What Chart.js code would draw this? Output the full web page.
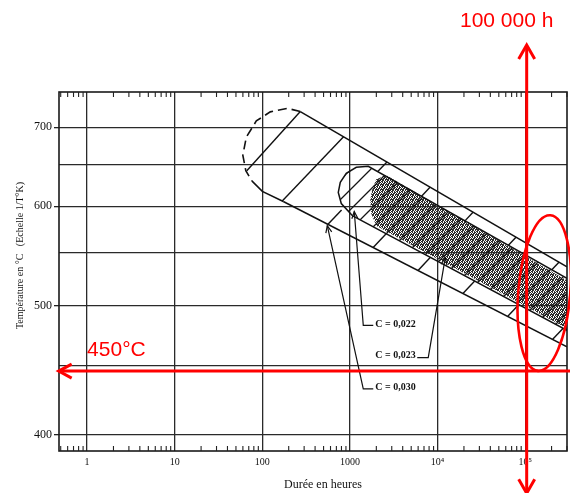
<!DOCTYPE html>
<html><head><meta charset="utf-8">
<script src="https://cdn.jsdelivr.net/npm/chart.js@4.4.1/dist/chart.umd.min.js"></script>
<style>html,body{margin:0;padding:0;background:#fff;}#wrap{width:570px;height:493px;position:relative;}</style>
</head><body><div id="wrap"><canvas id="c"></canvas></div>
<script>
// ---------- axes ----------
const X_MIN_H = 0.478, X_MAX_H = 3.0e5;          // hours
const Y_TOP_C = 752.4, Y_BOTTOM_C = 389.3;        // °C (scale in 1/T)
const X_TICKS = [1, 10, 100, 1000, 1e4, 1e5];
const X_TICK_LABELS = ['1', '10', '100', '1000', '10⁴', '10⁵'];
const Y_GRID_C = [400, 450, 500, 550, 600, 650, 700];
const Y_LABELLED_C = [400, 500, 600, 700];
const X_TITLE = 'Durée en heures';
const Y_TITLE = 'Température en °C   (Echelle 1/T°K)';

// ---------- drawn shapes, points as [hours, °C] ----------
const OUTER_CAP_DASHED = [[271.3,722.7],[192.8,727.5],[123.3,722.2],[85.4,709.0],[65.7,686.4],[59.9,662.2],[64.8,642.3],[75.9,629.9]];
const OUTER_CAP_SOLID = [[75.9,629.9],[100,617.3],[173.5,605.5]];
const OUTER_UPPER = [[271.3,722.7],[3.0e5,536.4]];
const OUTER_LOWER = [[173.5,605.5],[3.0e5,465.2]];
const OUTER_DIVIDERS = [
  [[271.3,722.7],[66.5,642.3]],
  [[845.6,686.8],[167.7,605.9]],
  [[2645,653.5],[2077,641.3]], [[802.4,595.9],[561.4,580.0]],
  [[8248,622.4],[6561,611.6]], [[2589,570.0],[1840,555.6]],
  [[25520,593.5],[20520,583.8]], [[8290,545.8],[5985,532.8]],
  [[78960,566.5],[64330,557.9]], [[26540,522.8],[19470,511.2]],
  [[244300,541.1],[201200,533.4]], [[84750,501.1],[63330,490.8]],
  [[271400,480.5],[205900,471.3]]
];
const INNER_BAND = [[1063,589.6],[796.2,603.2],[735.9,616.1],[775.5,628.1],[907.8,639.2],[1181,646.7],[1618,648.0],[3.0e5,525.2],[3.0e5,478.7],[1063,589.6]];
const SHADED = [[1797,619.6],[1996,631.8],[2596,636.7],[3.0e5,523.3],[3.0e5,480.4],[2529,573.2],[1996,578.6],[1751,591.8],[1705,607.8],[1797,619.6]];
// leaders: first point is the arrow tip
const LEADER_022 = [[1120,594.1],[1419,483.0],[1845,483.0]];
const LEADER_023 = [[12230,545.2],[7826,456.5],[5861,456.5]];
const LEADER_030 = [[551.1,578.6],[1419,432.6],[1845,432.6]];
const C_LABELS = ['C = 0,022', 'C = 0,023', 'C = 0,030'];
const C_LABEL_AT = [[1945,483.9],[1945,458.1],[1945,433.3]];

// ---------- red annotations ----------
const MARK_HOURS = 1.04e5, MARK_V_FROM_C = 831.5, MARK_V_TO_C = 362.8;
const MARK_TEMP_C = 446, MARK_H_FROM_H = 0.474, MARK_H_TO_H = 3.7e5;
const ELLIPSE_CENTER = [164800, 511.5];
const ELLIPSE_LEFT_H = 83220, ELLIPSE_TOP_C = 589.6, ELLIPSE_BOTTOM_C = 445.5;
const RED_TEXT_HOURS = '100 000 h', RED_TEXT_TEMP = '450°C';

// ---------- helpers ----------
const tv = c => 1000 / (c + 273.15);
const pts = arr => arr.map(([h, c]) => ({x: h, y: tv(c)}));
const cv = document.getElementById('c');
const cctx = cv.getContext('2d');

function hatchPattern() {
  const t = document.createElement('canvas'); t.width = t.height = 20;
  const g = t.getContext('2d');
  g.strokeStyle = '#151515'; g.lineWidth = 1.3; g.beginPath();
  g.moveTo(-2, 22); g.lineTo(22, -2);
  g.moveTo(-12, 12); g.lineTo(12, -12);
  g.moveTo(8, 32); g.lineTo(32, 8);
  g.stroke();
  return cctx.createPattern(t, 'repeat');
}
function stipplePattern() {
  const t = document.createElement('canvas'); t.width = t.height = 5;
  const g = t.getContext('2d');
  g.fillStyle = '#2c2c2c';
  [[0,0],[2,0],[3,0],[1,1],[4,1],[2,1],[0,2],[2,2],[4,2],[3,3],[1,3],[4,3],[0,4],[2,4],[3,4],[1,4]].forEach(([x,y]) => g.fillRect(x, y, 1, 1));
  return cctx.createPattern(t, 'repeat');
}

const mk = (arr, o = {}) => Object.assign({
  data: pts(arr), showLine: true, pointRadius: 0, pointHoverRadius: 0,
  borderColor: '#111', borderWidth: 1.5, fill: false, tension: 0
}, o);

const datasets = [
  mk(LEADER_022, {borderWidth: 1.2}),
  mk(LEADER_023, {borderWidth: 1.2}),
  mk(LEADER_030, {borderWidth: 1.2}),
  mk(OUTER_CAP_DASHED, {borderDash: [9, 5], borderWidth: 1.6}),
  mk(OUTER_CAP_SOLID),
  mk(OUTER_UPPER),
  mk(OUTER_LOWER),
  ...OUTER_DIVIDERS.map(d => mk(d, {borderWidth: 1.4})),
  mk(INNER_BAND, {fill: 'shape', backgroundColor: hatchPattern()}),
  mk(SHADED, {fill: 'shape', backgroundColor: stipplePattern(), borderColor: 'rgba(0,0,0,0)', borderWidth: 1})
];

function chevron(ctx, tx, ty, dx, dy, len, half) {
  const bx = tx - dx * len, by = ty - dy * len;
  ctx.beginPath();
  ctx.moveTo(bx - dy * half, by + dx * half);
  ctx.lineTo(tx, ty);
  ctx.lineTo(bx + dy * half, by - dx * half);
  ctx.stroke();
}

const decor = {
  id: 'decor',
  afterDatasetsDraw(chart) {
    const {ctx, chartArea: a, scales: {x: xs, y: ys}} = chart;
    ctx.save();
    ctx.strokeStyle = '#1a1a1a'; ctx.lineWidth = 1.6;
    ctx.strokeRect(a.left, a.top, a.right - a.left, a.bottom - a.top);
    ctx.lineWidth = 1.1; ctx.strokeStyle = '#222'; ctx.beginPath();
    for (let e = -1; e <= 5; e++) for (let m = 2; m <= 9; m++) {
      const v = m * Math.pow(10, e);
      if (v < X_MIN_H || v > X_MAX_H) continue;
      const px = xs.getPixelForValue(v);
      ctx.moveTo(px, a.bottom); ctx.lineTo(px, a.bottom - 5);
      ctx.moveTo(px, a.top); ctx.lineTo(px, a.top + 5);
    }
    ctx.stroke();
    ctx.strokeStyle = '#111'; ctx.lineWidth = 1.2;
    [LEADER_022, LEADER_023, LEADER_030].forEach(L => {
      const tx = xs.getPixelForValue(L[0][0]), ty = ys.getPixelForValue(tv(L[0][1]));
      const nx = xs.getPixelForValue(L[1][0]), ny = ys.getPixelForValue(tv(L[1][1]));
      const d = Math.hypot(tx - nx, ty - ny);
      chevron(ctx, tx, ty, (tx - nx) / d, (ty - ny) / d, 7, 3);
    });
    ctx.fillStyle = '#111'; ctx.font = 'bold 10px "Liberation Serif"';
    ctx.textAlign = 'left'; ctx.textBaseline = 'middle';
    C_LABELS.forEach((t, i) => {
      ctx.fillText(t, xs.getPixelForValue(C_LABEL_AT[i][0]), ys.getPixelForValue(tv(C_LABEL_AT[i][1])));
    });
    ctx.restore();
  },
  afterDraw(chart) {
    const {ctx, chartArea: a, scales: {x: xs, y: ys}} = chart;
    ctx.save();
    ctx.fillStyle = '#111'; ctx.textAlign = 'center'; ctx.textBaseline = 'middle';
    ctx.font = '12px "Liberation Serif"';
    ctx.fillText(X_TITLE, (a.left + a.right) / 2 + 10, 485);
    ctx.save();
    ctx.translate(20, (a.top + a.bottom) / 2 - 16);
    ctx.rotate(-Math.PI / 2);
    ctx.font = '10px "Liberation Serif"';
    ctx.fillText(Y_TITLE, 0, 0);
    ctx.restore();

    ctx.strokeStyle = '#ff0000'; ctx.fillStyle = '#ff0000';
    ctx.lineWidth = 3; ctx.lineJoin = 'miter'; ctx.lineCap = 'butt';
    const xv = xs.getPixelForValue(MARK_HOURS);
    const yTop = ys.getPixelForValue(tv(MARK_V_FROM_C));
    const yBot = ys.getPixelForValue(tv(MARK_V_TO_C));
    ctx.beginPath(); ctx.moveTo(xv, yTop + 2); ctx.lineTo(xv, yBot - 2); ctx.stroke();
    chevron(ctx, xv, yTop, 0, -1, 14, 8);
    chevron(ctx, xv, yBot, 0, 1, 14, 8);
    const yh = ys.getPixelForValue(tv(MARK_TEMP_C));
    const xl = xs.getPixelForValue(MARK_H_FROM_H), xr = xs.getPixelForValue(MARK_H_TO_H);
    ctx.beginPath(); ctx.moveTo(xl + 2, yh); ctx.lineTo(xr, yh); ctx.stroke();
    chevron(ctx, xl, yh, -1, 0, 13, 7);
    const ecx = xs.getPixelForValue(ELLIPSE_CENTER[0]);
    const ecy = ys.getPixelForValue(tv(ELLIPSE_CENTER[1]));
    const erx = ecx - xs.getPixelForValue(ELLIPSE_LEFT_H);
    const ery = (ys.getPixelForValue(tv(ELLIPSE_BOTTOM_C)) - ys.getPixelForValue(tv(ELLIPSE_TOP_C))) / 2;
    ctx.lineWidth = 2.6;
    ctx.beginPath(); ctx.ellipse(ecx, ecy, erx, ery, 0.08, 0, Math.PI * 2); ctx.stroke();
    ctx.font = '21px "Liberation Sans"'; ctx.textBaseline = 'alphabetic';
    ctx.textAlign = 'center';
    ctx.fillText(RED_TEXT_HOURS, xv - 20, yTop - 18);
    ctx.textAlign = 'left';
    ctx.fillText(RED_TEXT_TEMP, xs.getPixelForValue(1), yh - 15);
    ctx.restore();
  }
};

new Chart(cv, {
  type: 'scatter',
  data: {datasets},
  options: {
    responsive: true, maintainAspectRatio: false, animation: false, events: [],
    layout: {padding: {top: 92, right: 3, left: 0, bottom: 0}},
    plugins: {legend: {display: false}, tooltip: {enabled: false}},
    scales: {
      x: {
        type: 'logarithmic', min: X_MIN_H, max: X_MAX_H,
        afterBuildTicks: s => { s.ticks = X_TICKS.map(v => ({value: v})); },
        afterFit: s => { s.height = 42; },
        ticks: {autoSkip: false, maxRotation: 0, minRotation: 0, padding: 5, color: '#111',
          font: {family: 'Liberation Serif', size: 10},
          callback: v => { const i = X_TICKS.indexOf(v); return i >= 0 ? X_TICK_LABELS[i] : ''; }},
        grid: {color: '#2a2a2a', lineWidth: 1.3, drawTicks: false},
        border: {display: false}
      },
      y: {
        type: 'linear', reverse: true, min: tv(Y_TOP_C), max: tv(Y_BOTTOM_C),
        afterBuildTicks: s => { s.ticks = Y_GRID_C.map(c => ({value: tv(c)})); },
        afterFit: s => { s.width = 59; },
        ticks: {padding: 2, color: '#111', font: {family: 'Liberation Serif', size: 12},
          callback: v => { const c = Math.round(1000 / v - 273.15); return Y_LABELLED_C.includes(c) ? String(c) : ''; }},
        grid: {color: '#2a2a2a', lineWidth: 1.3, tickLength: 5,
          tickColor: ctx => (ctx.tick && Y_LABELLED_C.includes(Math.round(1000 / ctx.tick.value - 273.15))) ? '#222' : 'rgba(0,0,0,0)'},
        border: {display: false}
      }
    }
  },
  plugins: [decor]
});
</script>
</body></html>
